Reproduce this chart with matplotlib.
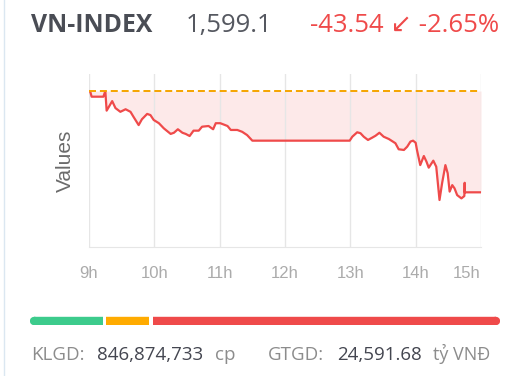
import matplotlib
matplotlib.use("Agg")
import matplotlib.pyplot as plt
from matplotlib.lines import Line2D

# ---------------- data ----------------
hours = [9.00, 9.02, 9.04, 9.22, 9.25, 9.27, 9.355, 9.405, 9.48, 9.56, 9.635, 9.68,
         9.76, 9.81, 9.89, 9.94, 9.99, 10.07, 10.145, 10.25, 10.30, 10.36, 10.43,
         10.48, 10.54, 10.60, 10.68, 10.73, 10.83, 10.90, 10.94, 11.01, 11.12, 11.17,
         11.27, 11.345, 11.42, 11.50, 12.99, 13.03, 13.105, 13.155, 13.205, 13.27,
         13.335, 13.385, 13.445, 13.51, 13.59, 13.64, 13.69, 13.74, 13.82, 13.87,
         13.92, 13.96, 14.00, 14.02, 14.07, 14.125, 14.165, 14.20, 14.27, 14.315,
         14.365, 14.405, 14.455, 14.49, 14.52, 14.56, 14.595, 14.635, 14.70, 14.745,
         14.75, 14.752, 15.00]
values = [1642.6, 1642.3, 1640.2, 1640.2, 1642.6, 1634.2, 1638.3, 1635.3, 1633.7,
          1634.8, 1633.7, 1631.6, 1628.0, 1630.5, 1632.8, 1632.3, 1630.2, 1628.8,
          1626.6, 1624.2, 1624.7, 1626.2, 1624.7, 1624.2, 1623.3, 1625.6, 1625.6,
          1627.3, 1627.6, 1626.2, 1628.8, 1628.8, 1627.6, 1625.9, 1625.9, 1625.1,
          1623.7, 1621.3, 1621.3, 1623.0, 1624.9, 1624.5, 1623.0, 1621.6, 1622.6,
          1623.4, 1624.7, 1623.0, 1622.0, 1621.1, 1620.2, 1617.6, 1617.3, 1618.7,
          1620.9, 1621.3, 1620.4, 1617.3, 1610.8, 1614.7, 1612.3, 1609.7, 1612.7,
          1610.1, 1595.8, 1603.1, 1610.8, 1607.3, 1599.4, 1602.2, 1600.8, 1597.9,
          1596.5, 1597.5, 1603.2, 1599.1, 1599.1]
ref_value = 1642.64
index_name = "VN-INDEX"
last_value = "1,599.1"
change_text = "-43.54 \u2199 -2.65%"
tick_hours = [9, 10, 11, 12, 13, 14, 15]
tick_labels = ["9h", "10h", "11h", "12h", "13h", "14h", "15h"]
breadth = [75, 46, 342]          # advancers / unchanged / decliners (proportions)
breadth_colors = ["#3ccb8c", "#ffab00", "#ef4a4a"]
volume_label, volume_value, volume_unit = "KLGD:", "846,874,733", "cp"
traded_label, traded_value, traded_unit = "GTGD:", "24,591.68", "t\u1ef7 VN\u0110"

# ---------------- figure ----------------
W, H = 524, 376
fig = plt.figure(figsize=(W / 100, H / 100), dpi=100)
fig.patch.set_facecolor("white")

RED = "#ef4a4a"
SANS = ["Open Sans", "DejaVu Sans"]

# left border line
fig.add_artist(Line2D([3.5 / W, 3.5 / W], [0, 1], transform=fig.transFigure,
                      color="#dbe7f1", lw=1))

# header
hy = 1 - 32 / H
fig.text(31 / W, hy, index_name, family=SANS, fontsize=17.8,
         fontweight="bold", color="#4a4d55", va="baseline")
fig.text(186 / W, hy, last_value, family=SANS, fontsize=18.5,
         color="#555860", va="baseline")
fig.text(310 / W, hy, change_text, family=SANS, fontsize=18.5,
         color=RED, va="baseline")

# main chart
ax = fig.add_axes([89 / W, 1 - 247 / H, (481 - 89) / W, (247 - 74) / H])
ax.fill_between(hours, values, ref_value, color="#fde9e9", lw=0)
ax.plot(hours, values, color=RED, lw=1.6, solid_joinstyle="round")
ax.axhline(ref_value, color="#f5a400", lw=1.4, ls=(0, (3.6, 2.0)))
ax.set_xlim(9, 15)
ax.set_ylim(1575.6, 1649.95)
ax.set_xticks(tick_hours, tick_labels)
ax.set_yticks([])
ax.grid(axis="x", color="#e6e6e6", lw=1)
for s in ["top", "right", "left"]:
    ax.spines[s].set_visible(False)
ax.spines["bottom"].set_color("#e6e6e6")
ax.tick_params(axis="x", length=0, pad=14, labelsize=12, labelcolor="#ababab")
for lbl in ax.get_xticklabels():
    lbl.set_family(["Liberation Sans", "DejaVu Sans"])
ax.get_xticklabels()[-1].set_horizontalalignment("right")
ax.set_ylabel("Values", fontsize=15, color="#6b6b6b",
              family=["Liberation Sans", "DejaVu Sans"])
ax.yaxis.label.set_verticalalignment("center")
ax.yaxis.set_label_coords(-24 / (481 - 89), 0.5)

# breadth bar
bx = fig.add_axes([30 / W, 1 - 325 / H, 470 / W, 9 / H])
total = sum(breadth)
bx.set_xlim(0, total)
bx.set_ylim(0, 1)
bx.axis("off")
px = total / 470
gap = 3.5 * px
lw_bar = 8.4 * 72 / 100
r = 4.2 * px
start = 0
for i, (v, c) in enumerate(zip(breadth, breadth_colors)):
    x0, x1 = start, start + v
    a = x0 + (r if i == 0 else 0)
    b = x1 - (gap if i < len(breadth) - 1 else r)
    bx.plot([a, b], [0.5, 0.5], color=c, lw=lw_bar, solid_capstyle="butt")
    if i == 0:
        bx.plot([a, a + px], [0.5, 0.5], color=c, lw=lw_bar, solid_capstyle="round")
    if i == len(breadth) - 1:
        bx.plot([b - px, b], [0.5, 0.5], color=c, lw=lw_bar, solid_capstyle="round")
    start = x1

# footer
fy = 1 - 360 / H
GRAY = "#8c8c8c"
DARK = "#444650"
fs = 13.5
fig.text(31 / W, fy, volume_label, family=SANS, fontsize=fs, color=GRAY, va="baseline")
fig.text(97 / W, fy, volume_value, family=SANS, fontsize=fs, color=DARK, va="baseline")
fig.text(215 / W, fy, volume_unit, family=SANS, fontsize=fs, color=GRAY, va="baseline")
fig.text(268 / W, fy, traded_label, family=SANS, fontsize=fs, color=GRAY, va="baseline")
fig.text(337 / W, fy, traded_value, family=SANS, fontsize=fs, color=DARK, va="baseline")
fig.text(433 / W, fy, traded_unit, family=SANS, fontsize=fs - 0.5, color=GRAY, va="baseline")

fig.savefig("out.png", dpi=100, facecolor="white")
